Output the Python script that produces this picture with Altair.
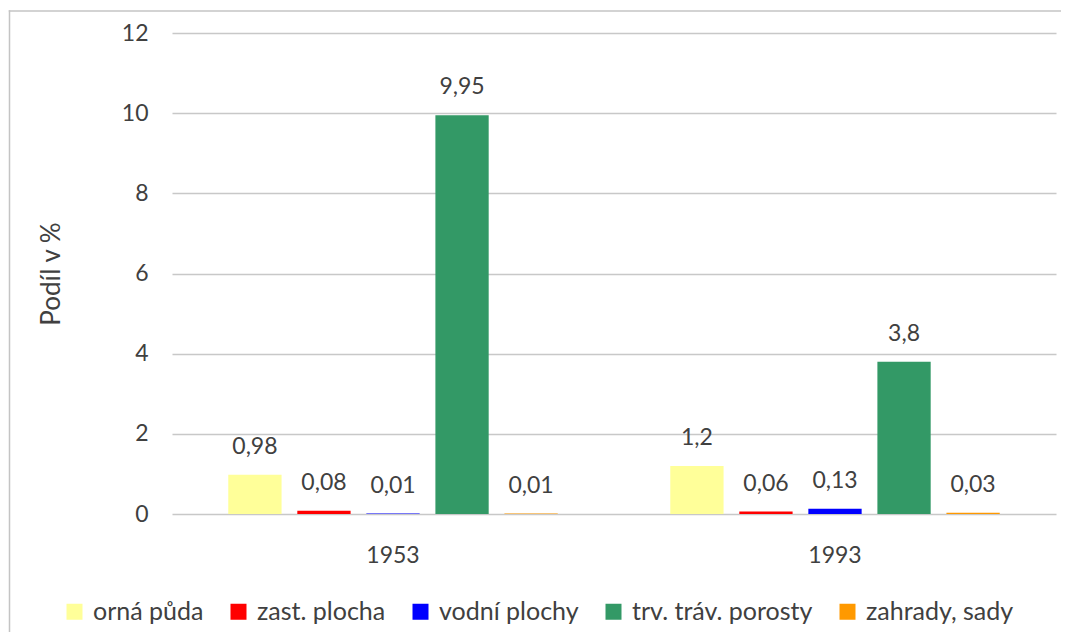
import altair as alt
import pandas as pd

years = ["1953", "1993"]
series = ["orná půda", "zast. plocha", "vodní plochy", "trv. tráv. porosty", "zahrady, sady"]
colors = ["#FFFF99", "#FF0000", "#0000FF", "#339966", "#FF9900"]
values_1953 = [0.98, 0.08, 0.01, 9.95, 0.01]
values_1993 = [1.2, 0.06, 0.13, 3.8, 0.03]

rows = []
for yr, vals in zip(years, [values_1953, values_1993]):
    for s, v in zip(series, vals):
        rows.append({"rok": yr, "typ": s, "hodnota": v, "popis": str(v).replace(".", ",")})
df = pd.DataFrame(rows)

FONT = "Lato"
TXT = "#404040"

base = alt.Chart(df).encode(
    x=alt.X("rok:N", sort=years,
            scale=alt.Scale(paddingInner=0, paddingOuter=0),
            axis=alt.Axis(title=None, labelAngle=0, ticks=False, domain=False, grid=False,
                          labelFont=FONT, labelFontSize=23, labelColor=TXT,
                          labelPadding=30)),
    xOffset=alt.XOffset("typ:N", sort=series,
                        scale=alt.Scale(paddingInner=0.228, paddingOuter=0.815)),
)

bars = base.mark_bar().encode(
    y=alt.Y("hodnota:Q",
            scale=alt.Scale(domain=[0, 12]),
            axis=alt.Axis(title="Podíl v %", values=[0, 2, 4, 6, 8, 10, 12],
                          ticks=False, domain=False, grid=True,
                          gridColor="#c8c8c8", gridWidth=1.5,
                          labelFont=FONT, labelFontSize=23, labelColor=TXT,
                          labelPadding=24,
                          titleFont=FONT, titleFontSize=26, titleColor=TXT,
                          titleFontWeight="normal", titlePadding=57)),
    color=alt.Color("typ:N", sort=series,
                    scale=alt.Scale(domain=series, range=colors),
                    legend=alt.Legend(title=None, orient="none", direction="horizontal",
                                      legendX=-110, legendY=566,
                                      symbolType="square", symbolSize=256,
                                      symbolStrokeWidth=0, symbolOpacity=1,
                                      labelFont=FONT, labelFontSize=25, labelColor=TXT,
                                      labelOffset=6, columnPadding=22, labelLimit=400)),
)

labels = base.mark_text(baseline="alphabetic", dy=-21, font=FONT, fontSize=23,
                        color=TXT).encode(
    y=alt.Y("hodnota:Q"),
    text="popis:N",
)

frame_src = alt.Chart(alt.Data(values=[{}]))
frame_left = frame_src.mark_rect(color="#c4c4c4", strokeWidth=0).encode(
    x=alt.value(-163.25), x2=alt.value(-161.75),
    y=alt.value(-22.75), y2=alt.value(800),
)
frame_top = frame_src.mark_rect(color="#c4c4c4", strokeWidth=0).encode(
    x=alt.value(-163.25), x2=alt.value(1000),
    y=alt.value(-22.75), y2=alt.value(-21.25),
)

chart = alt.layer(frame_left, frame_top, bars, labels).properties(
    width=884, height=481,
    autosize=alt.AutoSizeParams(type="none"),
    padding={"left": 164, "top": 25, "right": 5, "bottom": 118},
).configure(background="white").configure_view(stroke=None)

chart.save("out.html", embed_options={"renderer": "svg", "actions": False})
